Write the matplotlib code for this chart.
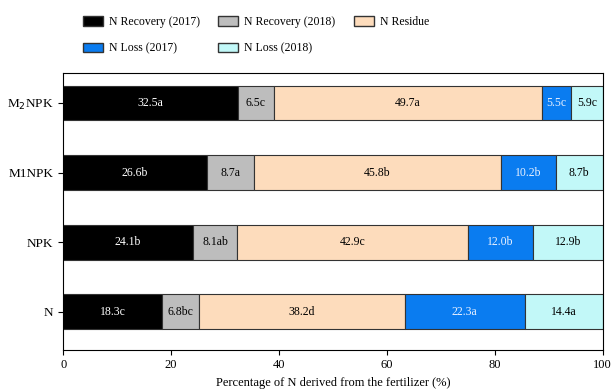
import numpy as np
import matplotlib.pyplot as plt
from matplotlib.patches import Patch

plt.rcParams['font.family'] = ['Liberation Serif', 'DejaVu Serif']

treatments = ['N', 'NPK', 'M1NPK', 'M$_2$NPK']
series = ['N Recovery (2017)', 'N Recovery (2018)', 'N Residue', 'N Loss (2017)', 'N Loss (2018)']
rec_2017 = [18.3, 24.1, 26.6, 32.5]
rec_2018 = [6.8, 8.1, 8.7, 6.5]
residue = [38.2, 42.9, 45.8, 49.7]
loss_2017 = [22.3, 12.0, 10.2, 5.5]
loss_2018 = [14.4, 12.9, 8.7, 5.9]
letters_rec17 = ['c', 'b', 'b', 'a']
letters_rec18 = ['bc', 'ab', 'a', 'c']
letters_res = ['d', 'c', 'b', 'a']
letters_l17 = ['a', 'b', 'b', 'c']
letters_l18 = ['a', 'b', 'b', 'c']

colors = ['#000000', '#bdbdbd', '#fddcbc', '#0a7cf0', '#c2f8f8']
text_colors = ['white', 'black', 'black', '#e8f0ff', 'black']

data = [rec_2017, rec_2018, residue, loss_2017, loss_2018]
letters = [letters_rec17, letters_rec18, letters_res, letters_l17, letters_l18]

fig = plt.figure(figsize=(6.13, 3.89), dpi=100)
ax = fig.add_axes([0.103, 0.100, 0.880, 0.712])

y = np.arange(len(treatments))
left = np.zeros(len(treatments))
for vals, lets, c, tc in zip(data, letters, colors, text_colors):
    vals = np.array(vals)
    ax.barh(y, vals, left=left, height=0.5, color=c, edgecolor='#333333', linewidth=0.8)
    for yi, l, v, s in zip(y, left, vals, lets):
        ax.text(l + v / 2, yi, f'{v:.1f}{s}', ha='center', va='center', fontsize=8.5, color=tc)
    left = left + vals

ax.set_xlim(0, 100)
ax.set_ylim(-0.55, 3.43)
ax.set_yticks(y)
ax.set_yticklabels(treatments, fontsize=9.5)
ax.set_xticks([0, 20, 40, 60, 80, 100])
ax.tick_params(axis='x', labelsize=9, pad=3)
ax.tick_params(axis='y', labelsize=9.5)
ax.set_xlabel('Percentage of N derived from the fertilizer (%)', fontsize=9, labelpad=4)

# legend fills column-wise, so order handles to read row-wise like the original
handles = [Patch(facecolor=c, edgecolor='#333333', label=s) for c, s in zip(colors, series)]
order = [0, 3, 1, 4, 2]
fig.legend(handles=[handles[i] for i in order], ncol=3, loc='upper left',
           bbox_to_anchor=(0.118, 0.985), frameon=False, fontsize=8.5,
           handlelength=1.7, handleheight=0.9, columnspacing=1.55,
           labelspacing=1.2, handletextpad=0.5)

fig.savefig('out.png', dpi=100)
